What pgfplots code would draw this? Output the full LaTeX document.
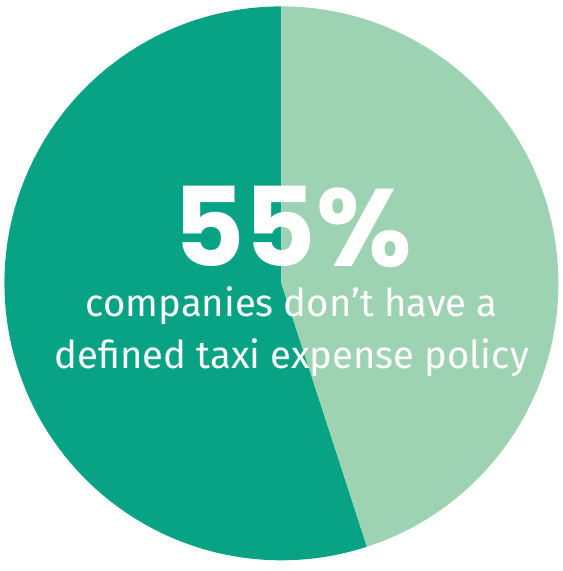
\documentclass[border=0pt]{standalone}
\usepackage{pgfplots}
\usepackage{pgfplotstable}
\pgfplotsset{compat=1.18}
\usepackage{fontspec}
\setmainfont{Fira Sans}
\newfontfamily\numfont{Poppins}
\definecolor{pieDark}{HTML}{08A385}
\definecolor{pieLight}{HTML}{9DD3B2}

\pgfplotstableread{
share
55
45
}\piedata

\begin{document}
\begin{tikzpicture}
\pgfplotstablegetelem{0}{share}\of\piedata \let\sharedark\pgfplotsretval
\pgfplotstablegetelem{1}{share}\of\piedata \let\sharelight\pgfplotsretval
\pgfmathsetmacro\darkend{90+3.6*\sharedark}
\pgfmathsetmacro\lightend{90-3.6*\sharelight}
\begin{axis}[
    hide axis,
    scale only axis,
    width=571bp, height=570bp,
    xmin=0, xmax=571,
    ymin=0, ymax=570,
    clip=false,
]
% keep the full canvas in the bounding box
\path (axis cs:0,0) rectangle (axis cs:571,570);
% dark slice (55%) counter-clockwise from the top, light slice (45%) clockwise
\fill[pieDark] (axis cs:285.5,282.5) -- +(90:281bp)
    arc[start angle=90, end angle=\darkend, radius=281bp] -- cycle;
\fill[pieLight] (axis cs:285.5,282.5) -- +(90:281bp)
    arc[start angle=90, end angle=\lightend, radius=281bp] -- cycle;

\node[text=white, anchor=base, inner sep=0pt,
      font=\numfont\bfseries\fontsize{112}{112}\selectfont]
    at (axis cs:297,300) {55\%};
\node[text=white, anchor=base, inner sep=0pt, font=\fontsize{39}{39}\selectfont]
    at (axis cs:296,249) {companies don’t have a};
\node[text=white, anchor=base, inner sep=0pt, font=\fontsize{39}{39}\selectfont]
    at (axis cs:296,196) {defined taxi expense policy};
\end{axis}
\end{tikzpicture}
\end{document}
